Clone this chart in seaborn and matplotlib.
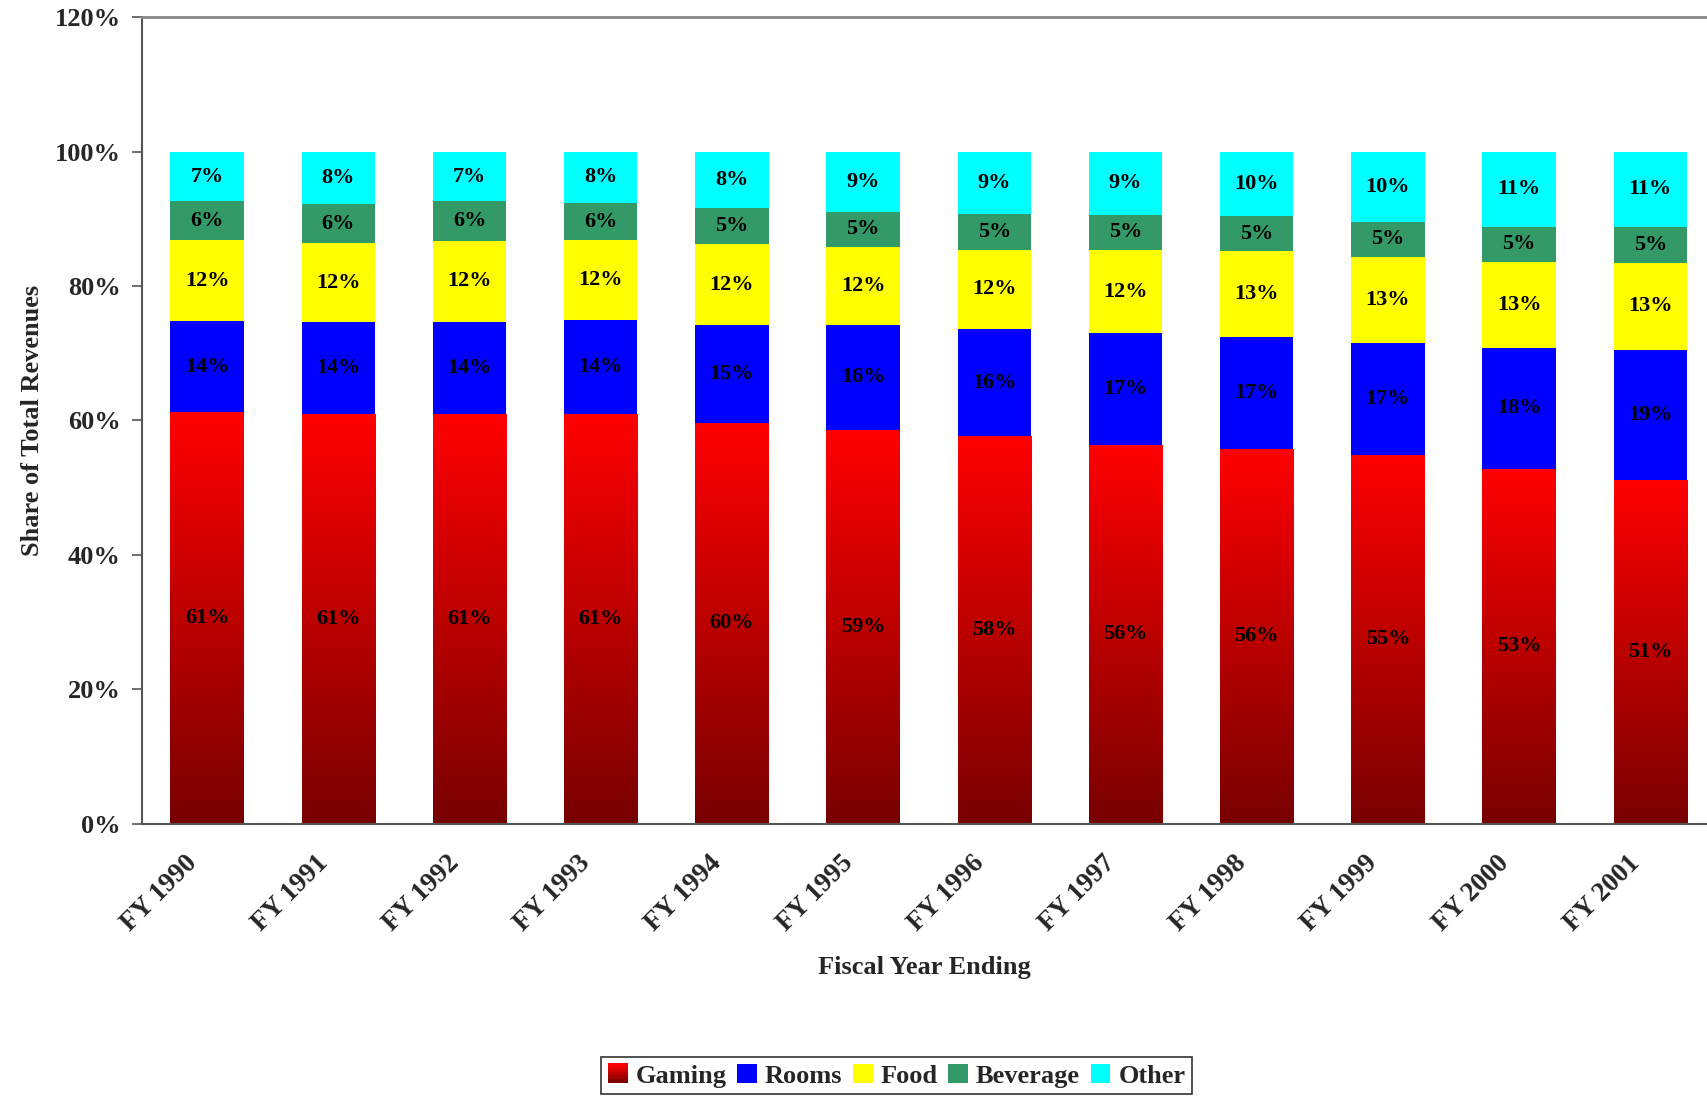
import numpy as np
import pandas as pd
import matplotlib
matplotlib.use('Agg')
import matplotlib.pyplot as plt
import matplotlib.transforms as mtransforms
import seaborn as sns
from matplotlib.colors import LinearSegmentedColormap
from matplotlib.patches import Rectangle, Patch
from matplotlib.legend_handler import HandlerBase
from matplotlib.ticker import PercentFormatter

# shares of total revenue, in percent
years = ['FY 1990', 'FY 1991', 'FY 1992', 'FY 1993', 'FY 1994', 'FY 1995',
         'FY 1996', 'FY 1997', 'FY 1998', 'FY 1999', 'FY 2000', 'FY 2001']
gaming = [61.2, 60.9, 60.9, 60.9, 59.6, 58.6, 57.7, 56.4, 55.8, 54.8, 52.8, 51.2]
rooms = [13.6, 13.7, 13.8, 14.0, 14.6, 15.6, 15.9, 16.6, 16.6, 16.8, 18.0, 19.3]
food = [12.0, 11.8, 12.0, 11.9, 12.0, 11.6, 11.8, 12.4, 12.8, 12.8, 12.8, 13.0]
beverage = [5.8, 5.8, 5.9, 5.6, 5.4, 5.3, 5.4, 5.2, 5.2, 5.2, 5.2, 5.3]
other = [7.4, 7.8, 7.4, 7.6, 8.4, 8.9, 9.2, 9.4, 9.6, 10.4, 11.2, 11.2]

layers = ['Gaming', 'Rooms', 'Food', 'Beverage', 'Other']
colors = ['#FF0000', '#0000FF', '#FFFF00', '#339966', '#00FFFF']

df = pd.DataFrame({'year': years, 'Gaming': gaming, 'Rooms': rooms, 'Food': food,
                   'Beverage': beverage, 'Other': other})

sns.set_style('white')
plt.rcParams['font.family'] = ['Liberation Serif', 'DejaVu Serif']
plt.rcParams['font.weight'] = 'bold'

red_grad = LinearSegmentedColormap.from_list('redgrad', ['#780000', '#FF0000'])

fig = plt.figure(figsize=(17.08, 10.97), dpi=100)
ax = fig.add_axes([0.0829, 0.2493, 0.9171, 0.7348])

bottom = np.zeros(len(years))
for name, col in zip(layers, colors):
    sns.barplot(data=df, x='year', y=name, color=col, saturation=1, width=0.56,
                bottom=bottom, errorbar=None, ax=ax, linewidth=0)
    if name == 'Gaming':
        # gradient fill for the gaming bars, dark at the bottom
        grad = np.linspace(0, 1, 256).reshape(-1, 1)
        for p in list(ax.patches):
            x0, y0 = p.get_x(), p.get_y()
            w, h = p.get_width(), p.get_height()
            im = ax.imshow(grad, cmap=red_grad, origin='lower', aspect='auto',
                           extent=[x0, x0 + w, y0, y0 + h], zorder=p.get_zorder() + 0.1,
                           interpolation='bilinear')
            im.set_clip_path(p)
    vals = df[name].values
    for i, v in enumerate(vals):
        ax.text(i, bottom[i] + v / 2, f"{v:.0f}%", ha='center', va='center',
                fontsize=16, fontweight='bold', color='black', zorder=5)
    bottom = bottom + vals

ax.set_xlim(-0.5, 11.44)
ax.set_ylim(0, 120)
ax.set_yticks(np.arange(0, 121, 20))
ax.yaxis.set_major_formatter(PercentFormatter(100, decimals=0))

# ticks between the categories, labels at the centres
ax.set_xticks(np.arange(len(years)))
ax.set_xticklabels(years, rotation=45, ha='right', va='center', rotation_mode='anchor')
ax.set_xticks(np.arange(-0.5, 11.5, 1), minor=True)
ax.tick_params(axis='x', which='major', length=0, pad=26, labelsize=19.5)
ax.tick_params(axis='x', which='minor', length=7, width=1.2, color='#555555', direction='out')
ax.tick_params(axis='y', length=7, width=1.2, color='#555555', direction='out',
               left=True, pad=8, labelsize=19)
shift = mtransforms.ScaledTranslation(-14 / 100, 0, fig.dpi_scale_trans)
for lab in ax.get_xticklabels():
    lab.set_transform(lab.get_transform() + shift)
for lab in ax.get_xticklabels() + ax.get_yticklabels():
    lab.set_fontweight('bold')

ax.set_xlabel('Fiscal Year Ending', fontsize=19, fontweight='bold', labelpad=14)
ax.set_ylabel('Share of Total Revenues', fontsize=19, fontweight='bold', labelpad=8)

for s in ['left', 'bottom']:
    ax.spines[s].set_color('#555555')
    ax.spines[s].set_linewidth(1.5)
ax.spines['top'].set_color('#888888')
ax.spines['top'].set_linewidth(2)
ax.spines['right'].set_visible(False)


class GradientHandler(HandlerBase):
    def create_artists(self, legend, orig_handle, xdescent, ydescent, width, height,
                       fontsize, trans):
        n = 14
        arts = []
        for k in range(n):
            r = Rectangle((-xdescent, -ydescent + height * k / n), width, height / n + 0.3,
                          facecolor=red_grad(k / (n - 1)), edgecolor='none', transform=trans)
            arts.append(r)
        return arts


handles = [Patch(facecolor=c, edgecolor='none') for c in colors]
leg = fig.legend(handles, layers, loc='lower center', bbox_to_anchor=(0.525, 0.0),
                 ncol=5, frameon=True, fancybox=False, edgecolor='black',
                 handlelength=0.75, handleheight=0.75, handletextpad=0.3,
                 columnspacing=0.4, borderpad=0.25, borderaxespad=0.1,
                 handler_map={handles[0]: GradientHandler()},
                 prop={'weight': 'bold', 'size': 19})
leg.get_frame().set_linewidth(1.2)

fig.savefig('out.png', dpi=100)
